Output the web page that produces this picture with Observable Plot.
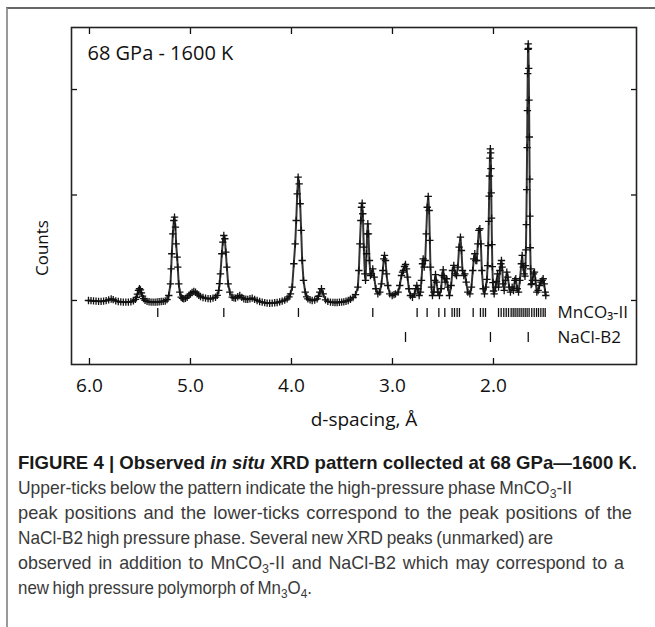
<!DOCTYPE html>
<html><head><meta charset="utf-8">
<script src="https://cdn.jsdelivr.net/npm/d3@7"></script>
<script src="https://cdn.jsdelivr.net/npm/@observablehq/plot@0.6"></script>
<style>
html,body{margin:0;padding:0;background:#fff;width:655px;height:627px;overflow:hidden;position:relative;}
#border{position:absolute;left:6px;top:7px;width:649px;height:620px;border-top:2px solid #666;border-left:2px solid #999;box-sizing:border-box;}
#chart{position:absolute;left:0;top:0;}
.cap{position:absolute;left:18px;white-space:nowrap;font-family:"Liberation Sans Narrow","Liberation Sans",Arial,sans-serif;font-size:19px;line-height:25px;color:#3a3a3a;transform-origin:0 50%;}
.cap.b{font-weight:bold;color:#1a1a1a}
sub{font-size:70%;vertical-align:-0.3em;line-height:0}
</style></head><body>
<div id="border"></div>
<div id="chart"></div>
<div class="cap b" data-w="619" style="top:450px">FIGURE 4 | Observed <i>in situ</i> XRD pattern collected at 68 GPa—1600 K.</div>
<div class="cap body" data-w="554" style="top:475px">Upper-ticks below the pattern indicate the high-pressure phase MnCO<sub>3</sub>-II</div>
<div class="cap body" data-w="614" style="top:500px">peak positions and the lower-ticks correspond to the peak positions of the</div>
<div class="cap body" data-w="535" style="top:525px">NaCl-B2 high pressure phase. Several new XRD peaks (unmarked) are</div>
<div class="cap body" data-w="606" style="top:550px">observed in addition to MnCO<sub>3</sub>-II and NaCl-B2 which may correspond to a</div>
<div class="cap body" data-w="294" style="top:575px">new high pressure polymorph of Mn<sub>3</sub>O<sub>4</sub>.</div>
<script>
// ---- data ----
const xrdPattern = [
[6.010,1000],[5.985,998],[5.960,996],[5.935,994],[5.910,992],[5.885,991],[5.860,994],[5.835,999],[5.810,1006],[5.785,1014],[5.765,1008],[5.740,996],[5.715,990],[5.690,987],[5.665,985],[5.640,984],[5.615,985],[5.590,988],[5.565,996],
[5.545,1010],[5.535,1030],[5.525,1060],[5.515,1095],[5.505,1111],[5.495,1100],[5.485,1072],[5.475,1042],[5.465,1018],[5.450,1002],[5.430,992],
[5.410,988],[5.390,985],[5.370,984],[5.350,985],[5.330,986],[5.310,988],[5.290,990],[5.270,992],[5.250,995],[5.232,1008],
[5.215,1047],[5.198,1158],[5.191,1300],[5.185,1443],[5.175,1632],[5.165,1758],[5.158,1790],[5.149,1695],[5.142,1537],[5.132,1411],[5.126,1316],[5.116,1158],[5.106,1079],[5.092,1031],
[5.079,1020],[5.066,1016],[5.050,1020],[5.033,1031],[5.015,1048],[5.000,1063],[4.984,1076],[4.967,1085],[4.950,1078],[4.934,1063],[4.918,1050],[4.901,1038],[4.876,1028],[4.851,1022],[4.826,1018],[4.802,1016],[4.777,1022],[4.752,1031],[4.735,1048],
[4.720,1095],[4.712,1160],[4.703,1253],[4.690,1443],[4.680,1553],[4.670,1616],[4.660,1585],[4.650,1458],[4.640,1316],[4.627,1158],[4.611,1079],[4.587,1031],
[4.570,1025],[4.554,1022],[4.532,1035],[4.512,1047],[4.492,1030],[4.472,1016],[4.452,1012],[4.433,1010],[4.411,1016],[4.389,1022],[4.365,1010],[4.340,1000],[4.315,990],[4.290,984],[4.265,979],[4.241,975],[4.216,974],[4.191,975],[4.166,978],[4.142,981],[4.117,987],[4.092,994],[4.067,1004],[4.043,1016],[4.025,1035],[4.010,1063],
[3.993,1126],[3.977,1348],[3.963,1537],[3.953,1758],[3.943,2011],[3.934,2169],[3.924,2106],[3.914,1917],[3.904,1664],[3.894,1379],[3.881,1190],[3.864,1079],[3.850,1035],[3.838,1016],
[3.816,1006],[3.795,1000],[3.770,1004],[3.746,1016],[3.733,1040],[3.720,1079],[3.703,1111],[3.686,1063],[3.663,1006],[3.640,992],[3.614,984],[3.590,982],[3.569,981],[3.548,981],[3.525,983],[3.503,985],[3.482,987],[3.460,993],[3.438,1000],[3.416,1012],[3.391,1028],[3.366,1055],[3.343,1126],
[3.333,1284],[3.323,1537],[3.313,1758],[3.307,1884],[3.300,1922],[3.294,1822],[3.284,1505],[3.274,1253],[3.267,1190],[3.257,1443],[3.251,1632],[3.244,1727],[3.238,1632],[3.228,1379],[3.218,1237],[3.208,1253],[3.195,1300],[3.181,1221],[3.165,1111],[3.145,1063],[3.126,1079],
[3.109,1158],[3.096,1284],[3.086,1395],[3.079,1427],[3.069,1379],[3.059,1253],[3.046,1142],[3.027,1063],[3.003,1047],[2.985,1055],[2.970,1063],[2.944,1079],
[2.928,1142],[2.911,1237],[2.901,1268],[2.891,1284],[2.881,1322],[2.871,1341],[2.861,1300],[2.851,1221],[2.838,1111],[2.822,1047],[2.802,1031],
[2.782,1063],[2.769,1111],[2.759,1142],[2.749,1111],[2.736,1047],
[2.723,1079],[2.713,1190],[2.703,1348],[2.696,1395],[2.686,1316],[2.676,1379],[2.666,1632],[2.656,1884],[2.646,1986],[2.637,1853],[2.630,1569],[2.624,1316],[2.614,1126],[2.604,1047],
[2.591,1079],[2.581,1190],[2.574,1246],[2.564,1174],[2.551,1079],[2.535,1047],
[2.518,1111],[2.508,1237],[2.498,1291],[2.488,1221],[2.478,1174],[2.465,1206],[2.452,1126],[2.436,1047],
[2.419,1142],[2.406,1284],[2.393,1332],[2.379,1253],[2.366,1237],[2.353,1316],[2.340,1505],[2.327,1600],[2.317,1474],[2.307,1284],[2.294,1237],[2.284,1253],[2.270,1174],[2.254,1079],[2.234,1063],
[2.218,1126],[2.205,1284],[2.195,1395],[2.185,1443],[2.175,1379],[2.165,1379],[2.155,1537],[2.145,1664],[2.135,1680],[2.125,1537],[2.115,1284],[2.102,1111],[2.089,1063],[2.076,1126],
[2.065,1200],[2.058,1330],[2.052,1520],[2.047,1750],[2.043,1990],[2.039,2180],[2.035,2350],[2.031,2438],[2.028,2400],[2.025,2250],[2.022,2020],[2.019,1780],[2.015,1530],[2.011,1320],[2.006,1170],[2.000,1090],[1.993,1063],
[1.980,1126],[1.970,1180],[1.960,1253],[1.950,1126],[1.937,1284],[1.927,1348],[1.921,1379],[1.914,1316],[1.905,1158],[1.894,1095],[1.881,1190],[1.868,1268],[1.858,1221],[1.845,1126],[1.832,1079],[1.815,1126],[1.802,1095],[1.789,1190],[1.779,1206],[1.765,1111],[1.752,1079],[1.739,1190],[1.724,1348],[1.716,1427],[1.706,1316],[1.696,1253],
[1.688,1230],[1.683,1330],[1.679,1480],[1.675,1720],[1.671,2050],[1.667,2450],[1.664,2800],[1.661,3150],[1.658,3380],[1.656,3433],[1.654,3390],[1.651,3200],[1.648,2900],[1.645,2550],[1.642,2150],[1.639,1800],[1.636,1500],[1.632,1300],[1.627,1150],
[1.620,1160],[1.614,1190],[1.604,1253],[1.594,1268],[1.584,1190],[1.571,1079],[1.558,1095],[1.545,1142],[1.531,1174],[1.518,1190],[1.508,1206],[1.498,1158],[1.488,1079],[1.482,1047]
];
const mnco3Peaks = [5.324,4.670,3.931,3.195,2.756,2.657,2.541,2.482,2.410,2.386,2.360,2.337,2.201,2.129,2.102,2.079,1.950,1.924,1.898,1.874,1.851,1.825,1.805,1.786,1.766,1.746,1.726,1.706,1.686,1.667,1.647,1.621,1.597,1.574,1.554,1.531,1.508,1.488];
const naclPeaks = [2.871,2.030,1.656];
const phaseNames = ["MnCO₃-II","NaCl-B2"];
const xTicks = [6,5,4,3,2];
const yTicks = [1000,2000,3000];
const conditionLabel = "68 GPa - 1600 K";
const xLabel = "d-spacing, Å";
const yLabel = "Counts";

// ---- build ----
const pts = xrdPattern.map(([d, c]) => ({d, c}));
const rows = [
  {name: phaseNames[0], peaks: mnco3Peaks, y1: 839, y2: 924},
  {name: phaseNames[1], peaks: naclPeaks, y1: 602, y2: 697}
];
const rowTicks = rows.flatMap(r => r.peaks.map(d => ({d, y1: r.y1, y2: r.y2})));

const chart = Plot.plot({
  width: 655, height: 440,
  marginLeft: 71, marginRight: 19, marginTop: 27, marginBottom: 76,
  style: {fontFamily: "'Open Sans', sans-serif", background: "transparent", color: "#111"},
  x: {domain: [6.178, 0.584]},
  y: {domain: [393, 3588]},
  marks: [
    Plot.axisX(xTicks, {anchor: "bottom", tickSize: -6, tickPadding: 20, tickFormat: d => d.toFixed(1), fontSize: 19, label: null, strokeWidth: 1.3}),
    Plot.axisX(xTicks, {anchor: "top", tickSize: -6, tickFormat: () => "", label: null, strokeWidth: 1.3}),
    Plot.axisY(yTicks, {anchor: "left", tickSize: -6, tickFormat: () => "", label: null, strokeWidth: 1.3}),
    Plot.axisY(yTicks, {anchor: "right", tickSize: -6, tickFormat: () => "", label: null, strokeWidth: 1.3}),
    Plot.frame({stroke: "#222", strokeWidth: 1.6}),
    Plot.ruleX(rowTicks, {x: "d", y1: "y1", y2: "y2", stroke: "#111", strokeWidth: 1.3}),
    Plot.line(pts, {x: "d", y: "c", stroke: "#333", strokeWidth: 2}),
    Plot.dot(pts, {x: "d", y: "c", symbol: "plus", r: 2.5, stroke: "#111", strokeWidth: 1.3}),
    Plot.text(rows, {y: r => (r.y1 + r.y2) / 2, text: "name", frameAnchor: "right", dx: -79, textAnchor: "start", fontSize: 17}),
    Plot.text([conditionLabel], {text: d => d, frameAnchor: "top-left", dx: 16, dy: 18, lineAnchor: "top", textAnchor: "start", fontSize: 20}),
    Plot.text([yLabel], {text: d => d, frameAnchor: "left", rotate: -90, dx: -29, dy: 80, fontSize: 17}),
    Plot.text([xLabel], {text: d => d, frameAnchor: "bottom", dx: 10, dy: 61, fontSize: 19})
  ]
});
document.getElementById("chart").appendChild(chart);

// caption: common glyph scale, small clamped word-spacing, then a per-line scale for the remainder
const bodyLines = [...document.querySelectorAll(".cap.body")];
const nat = bodyLines.map(el => el.getBoundingClientRect().width);
const sumW = bodyLines.reduce((a, el) => a + (+el.dataset.w), 0);
const sumN = nat.reduce((a, b) => a + b, 0);
const s = sumN > 0 ? sumW / sumN : 1;
bodyLines.forEach((el, i) => {
  const spaces = (el.textContent.match(/ /g) || []).length;
  const extra = Math.max(-1.2, Math.min(2, (+el.dataset.w / s - nat[i]) / Math.max(1, spaces)));
  el.style.wordSpacing = `${extra}px`;
  const w2 = el.getBoundingClientRect().width;
  el.style.transform = `scaleX(${w2 > 0 ? +el.dataset.w / w2 : s})`;
});
const bold = document.querySelector(".cap.b");
const bw = bold.getBoundingClientRect().width;
if (bw > 0) bold.style.transform = `scaleX(${(+bold.dataset.w) / bw})`;
</script>
</body></html>
